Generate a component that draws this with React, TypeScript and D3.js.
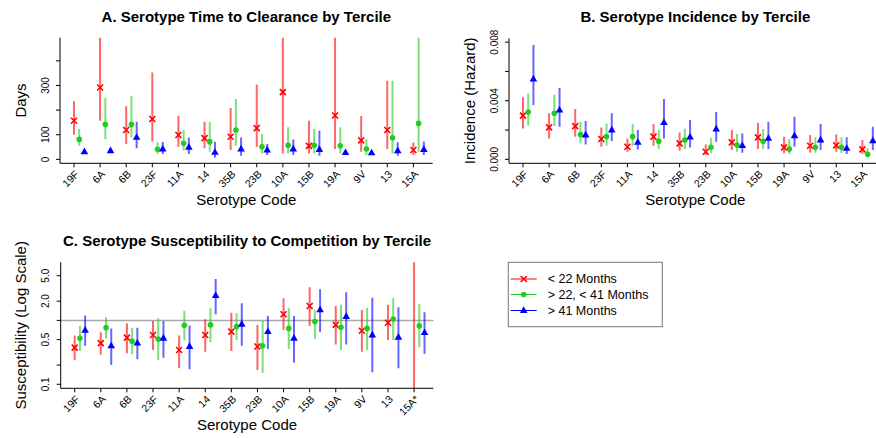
import React, { useEffect, useRef } from "react";
import * as d3 from "d3";

// serotype order on every panel
const serotypes = ["19F", "6A", "6B", "23F", "11A", "14", "35B", "23B", "10A", "15B", "19A", "9V", "13", "15A"];
const serotypesC = ["19F", "6A", "6B", "23F", "11A", "14", "35B", "23B", "10A", "15B", "19A", "9V", "13", "15A*"];
const terciles = ["< 22 Months", "> 22, < 41 Months", "> 41 Months"];

// [estimate, lower, upper] per serotype
const clearanceT1 = [[157, 100, 236], [292, 157, 600], [119, 62, 216], [164, 73, 353], [99, 51, 177], [86, 45, 153], [92, 38, 209], [127, 50, 304], [273, 24, 600], [55, 24, 157], [178, 42, 600], [77, 31, 176], [119, 42, 319], [38, 18, 68]];
const clearanceT2 = [[81, 55, 123], [142, 82, 250], [142, 89, 258], [41, 22, 69], [65, 36, 119], [72, 31, 153], [119, 55, 245], [51, 24, 103], [57, 24, 130], [57, 24, 123], [55, 24, 130], [42, 18, 82], [88, 24, 319], [146, 31, 600]];
const clearanceT3 = [[31, 24, 38], [35, 28, 42], [89, 45, 153], [42, 22, 70], [49, 22, 89], [28, 8, 72], [42, 15, 89], [38, 18, 62], [42, 18, 81], [40, 15, 116], [27, 18, 36], [26, 18, 32], [35, 15, 69], [40, 18, 73]];

const incidenceT1 = [[0.00298, 0.00211, 0.00423], [0.00218, 0.00143, 0.00314], [0.00227, 0.00155, 0.00343], [0.00139, 0.00086, 0.00218], [0.00086, 0.00052, 0.00143], [0.00155, 0.00093, 0.00241], [0.00109, 0.00059, 0.00184], [0.00052, 0.0003, 0.00102], [0.00116, 0.00064, 0.002], [0.0015, 0.0007, 0.0025], [0.00082, 0.00041, 0.00155], [0.00093, 0.00045, 0.00166], [0.00095, 0.00052, 0.0017], [0.00068, 0.00036, 0.00132]];
const incidenceT2 = [[0.00323, 0.0023, 0.0045], [0.00314, 0.00227, 0.0044], [0.0017, 0.00109, 0.00257], [0.00155, 0.00093, 0.00245], [0.00155, 0.00093, 0.00241], [0.00123, 0.0007, 0.002], [0.00132, 0.0007, 0.00209], [0.00082, 0.00041, 0.00148], [0.00098, 0.00052, 0.00173], [0.00123, 0.0007, 0.00207], [0.0007, 0.00036, 0.00139], [0.00082, 0.00045, 0.0015], [0.00082, 0.00045, 0.0015], [0.00034, 0.00018, 0.00075]];
const incidenceT3 = [[0.00548, 0.0037, 0.0078], [0.00336, 0.00223, 0.00486], [0.00166, 0.00102, 0.00261], [0.002, 0.00125, 0.00314], [0.00116, 0.00068, 0.002], [0.0025, 0.00143, 0.00411], [0.00152, 0.0008, 0.00268], [0.00207, 0.0012, 0.00323], [0.00093, 0.00045, 0.00177], [0.00143, 0.0007, 0.00257], [0.00161, 0.00086, 0.00291], [0.00132, 0.00064, 0.00241], [0.00075, 0.00036, 0.0015], [0.00127, 0.00064, 0.00223]];

// 15A* low tercile has no estimate, interval unbounded
const suscT1 = [[0.375, 0.238, 0.578], [0.44, 0.29, 0.65], [0.537, 0.305, 0.9], [0.59, 0.344, 0.98], [0.344, 0.178, 0.578], [0.59, 0.324, 1.04], [0.667, 0.333, 1.32], [0.39, 0.167, 0.85], [1.25, 0.71, 2.22], [1.68, 0.82, 3.3], [0.85, 0.42, 1.68], [0.69, 0.324, 1.46], [0.92, 0.495, 1.75], [null, 0.001, 1000]];
const suscT2 = [[0.525, 0.333, 0.82], [0.77, 0.525, 1.12], [0.47, 0.295, 0.77], [0.51, 0.24, 1.08], [0.84, 0.49, 1.42], [0.85, 0.454, 1.55], [0.8, 0.495, 1.29], [0.4, 0.152, 0.98], [0.75, 0.357, 1.55], [0.957, 0.51, 1.46], [0.78, 0.344, 1.75], [0.75, 0.344, 1.58], [1.05, 0.495, 2.22], [0.82, 0.38, 1.79]];
const suscT3 = [[0.7, 0.4, 1.19], [0.4, 0.2, 0.75], [0.44, 0.246, 0.77], [0.525, 0.26, 0.98], [0.39, 0.172, 0.83], [2.44, 1.25, 4.45], [0.87, 0.4, 1.85], [0.667, 0.357, 1.17], [0.525, 0.22, 1.17], [1.46, 0.65, 3.07], [1.15, 0.42, 2.75], [0.59, 0.154, 2.27], [0.545, 0.178, 1.6], [0.644, 0.3, 1.34]];

const clearanceTicks = [0, 100, 200, 300, 400];
const clearanceLabels = ["0", "100", "", "300", ""];
const incidenceTicks = [0, 0.002, 0.004, 0.006, 0.008];
const incidenceLabels = ["0.000", "", "0.004", "", "0.008"];
const suscTicks = [0.1, 0.2, 0.5, 1, 2, 5];
const suscLabels = ["0.1", "", "0.5", "", "2.0", "5.0"];

const markerColors = ["#ff0000", "#22cc22", "#0000ff"];
const FONT = "'Liberation Sans', Arial, Helvetica, sans-serif";

function drawMarker(g, kind, x, y) {
  if (kind === 0) {
    g.append("path")
      .attr("d", `M${x - 3},${y - 3}L${x + 3},${y + 3}M${x - 3},${y + 3}L${x + 3},${y - 3}`)
      .attr("stroke", markerColors[0])
      .attr("stroke-width", 1.6)
      .attr("fill", "none");
  } else if (kind === 1) {
    g.append("circle").attr("cx", x).attr("cy", y).attr("r", 2.8).attr("fill", markerColors[1]);
  } else {
    g.append("path")
      .attr("d", `M${x},${y - 4.2}L${x + 3.8},${y + 2.4}L${x - 3.8},${y + 2.4}Z`)
      .attr("fill", markerColors[2]);
  }
}

function drawPanel(svg, o) {
  const x = d3.scaleLinear().domain([0.464, 14.74]).range([o.left, o.left + 372.7]);
  const y = o.y;
  const [bottom, top] = y.range();
  const offsets = [0, 0.2, 0.4];

  svg.append("clipPath").attr("id", o.id)
    .append("rect").attr("x", o.left).attr("y", top).attr("width", 372.7).attr("height", bottom - top);

  // reference line
  if (o.refLine != null) {
    svg.append("line")
      .attr("x1", o.left).attr("x2", o.left + 372.7)
      .attr("y1", y(o.refLine)).attr("y2", y(o.refLine))
      .attr("stroke", "#aaaaaa").attr("stroke-width", 1.5);
  }

  const plot = svg.append("g").attr("clip-path", `url(#${o.id})`);
  o.series.forEach((s, k) => {
    s.forEach((d, i) => {
      const cx = x(i + 1 + offsets[k]);
      plot.append("line")
        .attr("x1", cx).attr("x2", cx)
        .attr("y1", y(d[1])).attr("y2", y(d[2]))
        .attr("stroke", markerColors[k])
        .attr("stroke-opacity", 0.6)
        .attr("stroke-width", 2);
    });
    s.forEach((d, i) => {
      if (d[0] == null) return;
      drawMarker(plot, k, x(i + 1 + offsets[k]), y(d[0]));
    });
  });

  // L-shaped box
  svg.append("path")
    .attr("d", `M${o.left},${top}V${bottom}H${o.left + 372.7}`)
    .attr("stroke", "#000").attr("fill", "none").attr("stroke-width", 1);

  // x ticks and labels
  const xa = svg.append("g").attr("font-family", FONT).attr("font-size", 10.5);
  o.labels.forEach((lab, i) => {
    const cx = x(i + 1);
    xa.append("line").attr("x1", cx).attr("x2", cx).attr("y1", bottom).attr("y2", bottom + 4).attr("stroke", "#000");
    xa.append("text")
      .attr("transform", `translate(${cx + 3},${bottom + 9}) rotate(-45)`)
      .attr("text-anchor", "end")
      .attr("dy", "0.35em")
      .text(lab);
  });

  // y ticks and labels
  const ya = svg.append("g").attr("font-family", FONT).attr("font-size", 10);
  o.yTicks.forEach((t, i) => {
    ya.append("line").attr("x1", o.left - 4).attr("x2", o.left).attr("y1", y(t)).attr("y2", y(t)).attr("stroke", "#000");
    if (o.yLabels[i]) {
      ya.append("text")
        .attr("transform", `translate(${o.left - 11.5},${y(t)}) rotate(-90)`)
        .attr("text-anchor", "middle")
        .text(o.yLabels[i]);
    }
  });

  const mid = o.left + 372.7 / 2;
  svg.append("text")
    .attr("x", mid).attr("y", top - 16)
    .attr("text-anchor", "middle")
    .attr("font-family", FONT).attr("font-weight", "bold").attr("font-size", 15)
    .text(o.title);
  svg.append("text")
    .attr("x", mid).attr("y", bottom + 42)
    .attr("text-anchor", "middle")
    .attr("font-family", FONT).attr("font-size", 15)
    .text("Serotype Code");
  svg.append("text")
    .attr("transform", `translate(${o.left - 34.5},${(top + bottom) / 2}) rotate(-90)`)
    .attr("text-anchor", "middle")
    .attr("font-family", FONT).attr("font-size", 15)
    .text(o.yTitle);
}

function App() {
  const ref = useRef(null);

  useEffect(() => {
    d3.select(ref.current).selectAll("*").remove();
    const svg = d3.select(ref.current)
      .append("svg")
      .attr("width", 876)
      .attr("height", 438)
      .style("position", "absolute")
      .style("left", "0px")
      .style("top", "0px")
      .style("background", "#fff");

    drawPanel(svg, {
      id: "clipA",
      left: 60,
      y: d3.scaleLinear().domain([-16, 494]).range([163.3, 37.7]),
      yTicks: clearanceTicks,
      yLabels: clearanceLabels,
      series: [clearanceT1, clearanceT2, clearanceT3],
      labels: serotypes,
      title: "A. Serotype Time to Clearance by Tercile",
      yTitle: "Days",
    });

    drawPanel(svg, {
      id: "clipB",
      left: 509,
      y: d3.scaleLinear().domain([-0.00027, 0.00826]).range([163.3, 38.3]),
      yTicks: incidenceTicks,
      yLabels: incidenceLabels,
      series: [incidenceT1, incidenceT2, incidenceT3],
      labels: serotypes,
      title: "B. Serotype Incidence by Tercile",
      yTitle: "Incidence (Hazard)",
    });

    drawPanel(svg, {
      id: "clipC",
      left: 60.7,
      y: d3.scaleLog().domain([0.0866, 8.11]).range([388.3, 262.3]),
      yTicks: suscTicks,
      yLabels: suscLabels,
      series: [suscT1, suscT2, suscT3],
      labels: serotypesC,
      title: "C. Serotype Susceptibility to Competition by Tercile",
      yTitle: "Susceptibility (Log Scale)",
      refLine: 1,
    });

    // legend
    const lg = svg.append("g").attr("font-family", FONT).attr("font-size", 12.5);
    lg.append("rect")
      .attr("x", 508.3).attr("y", 262.3).attr("width", 154).attr("height", 64.4)
      .attr("fill", "none").attr("stroke", "#777").attr("stroke-width", 1);
    const rows = [279, 294.5, 310.5];
    terciles.forEach((t, k) => {
      lg.append("line")
        .attr("x1", 510.7).attr("x2", 536.7)
        .attr("y1", rows[k]).attr("y2", rows[k])
        .attr("stroke", markerColors[k]).attr("stroke-width", 1);
      drawMarker(lg, k, 523.7, rows[k]);
      lg.append("text").attr("x", 547.7).attr("y", rows[k] + 4.3).text(t);
    });
  }, []);

  return <div ref={ref}></div>;
}

export default App;
